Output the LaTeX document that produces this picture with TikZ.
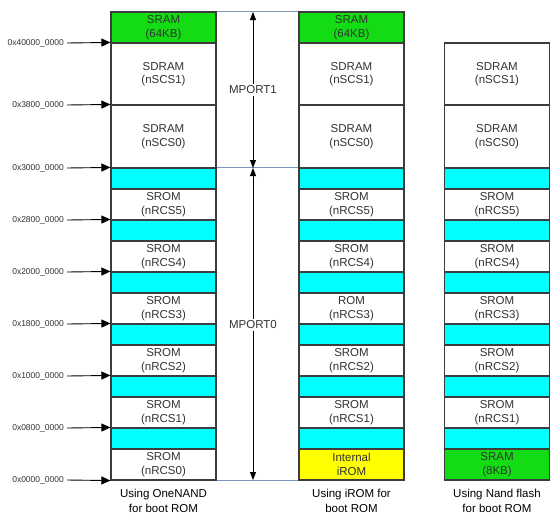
\documentclass[tikz,border=0pt]{standalone}
\usepackage{fontspec}
\setmainfont{Liberation Sans}
\usetikzlibrary{arrows.meta}
\definecolor{cellcyan}{RGB}{0,255,255}
\definecolor{cellgreen}{RGB}{20,220,20}
\definecolor{cellyellow}{RGB}{255,255,0}
\definecolor{guideblue}{RGB}{120,150,190}
\definecolor{bordergray}{RGB}{60,60,60}
\definecolor{txtgray}{RGB}{50,50,50}
\tikzset{
  cell/.style={draw=bordergray, line width=1.1pt, minimum width=105pt, inner sep=0pt,
    align=center, font=\fontsize{11.5}{13.5}\selectfont, text=txtgray},
  addr/.style={anchor=east, inner sep=3pt, font=\fontsize{8.5}{10}\selectfont, text=txtgray},
  addrarrow/.style={-{Triangle[length=9pt,width=8pt]}, line width=0.9pt, black},
  portarrow/.style={{Triangle[length=8pt,width=6pt]}-{Triangle[length=8pt,width=6pt]}, line width=0.8pt, black},
  portlabel/.style={fill=white, inner sep=2pt, font=\fontsize{11.5}{13}\selectfont, text=txtgray},
  guide/.style={draw=guideblue, line width=0.6pt},
  caption/.style={align=center, font=\fontsize{11.5}{15}\selectfont, text=black}
}
\begin{document}
\begin{tikzpicture}[x=1pt,y=-1pt]
\useasboundingbox (0,0) rectangle (558,520);
% ---------- column 1 ----------
\node[cell, fill=cellgreen, minimum height=31pt] (c1sram) at (163.5,27.5) {SRAM\\(64KB)};
\node[cell, minimum height=62pt] (c1scs1) at (163.5,74) {SDRAM\\(nSCS1)};
\node[cell, minimum height=63pt] (c1scs0) at (163.5,136.5) {SDRAM\\(nSCS0)};
\foreach \k/\n/\lab in {0/5/{SROM\\(nRCS5)},1/4/{SROM\\(nRCS4)},2/3/{SROM\\(nRCS3)},3/2/{SROM\\(nRCS2)},4/1/{SROM\\(nRCS1)},5/0/{SROM\\(nRCS0)}}{
  \node[cell, fill=cellcyan, minimum height=21pt] (c1cy\n) at (163.5,178.5+52*\k) {};
  \node[cell, minimum height=31pt] (c1r\n) at (163.5,204.5+52*\k) {\lab};
}
% ---------- column 2 ----------
\node[cell, fill=cellgreen, minimum height=31pt] (c2sram) at (351.5,27.5) {SRAM\\(64KB)};
\node[cell, minimum height=62pt] (c2scs1) at (351.5,74) {SDRAM\\(nSCS1)};
\node[cell, minimum height=63pt] (c2scs0) at (351.5,136.5) {SDRAM\\(nSCS0)};
\foreach \k/\n/\lab/\fc in {0/5/{SROM\\(nRCS5)}/white,1/4/{SROM\\(nRCS4)}/white,2/3/{ROM\\(nRCS3)}/white,3/2/{SROM\\(nRCS2)}/white,4/1/{SROM\\(nRCS1)}/white,5/0/{Internal\\iROM}/cellyellow}{
  \node[cell, fill=cellcyan, minimum height=21pt] (c2cy\n) at (351.5,178.5+52*\k) {};
  \node[cell, fill=\fc, minimum height=31pt] (c2r\n) at (351.5,204.5+52*\k) {\lab};
}
% ---------- column 3 ----------
\node[cell, minimum height=62pt] (c3scs1) at (497,74) {SDRAM\\(nSCS1)};
\node[cell, minimum height=63pt] (c3scs0) at (497,136.5) {SDRAM\\(nSCS0)};
\foreach \k/\n/\lab/\fc in {0/5/{SROM\\(nRCS5)}/white,1/4/{SROM\\(nRCS4)}/white,2/3/{SROM\\(nRCS3)}/white,3/2/{SROM\\(nRCS2)}/white,4/1/{SROM\\(nRCS1)}/white,5/0/{SRAM\\(8KB)}/cellgreen}{
  \node[cell, fill=cellcyan, minimum height=21pt] (c3cy\n) at (497,178.5+52*\k) {};
  \node[cell, fill=\fc, minimum height=31pt] (c3r\n) at (497,204.5+52*\k) {\lab};
}
% ---------- guide lines ----------
\draw[guide] (c1sram.north east) -- (c2sram.north west);
\draw[guide] (c1cy5.north east) -- (c2cy5.north west);
\draw[guide] (c1r0.south east) -- (c2r0.south west);
% ---------- MPORT arrows ----------
\coordinate (mtop) at (253,12);
\coordinate (mmid) at (253,168);
\coordinate (mbot) at (253,480);
\draw[portarrow] (mtop) -- (mmid);
\draw[portarrow] (mmid) -- (mbot);
\node[portlabel] (mp1) at (253,90) {MPORT1};
\node[portlabel] (mp0) at (253,325) {MPORT0};
% ---------- addresses ----------
\node[addr] (a40) at (67,43) {0x40000\_0000};
\node[addr] (a38) at (67,105) {0x3800\_0000};
\node[addr] (a30) at (67,168) {0x3000\_0000};
\node[addr] (a28) at (67,220) {0x2800\_0000};
\node[addr] (a20) at (67,272) {0x2000\_0000};
\node[addr] (a18) at (67,324) {0x1800\_0000};
\node[addr] (a10) at (67,376) {0x1000\_0000};
\node[addr] (a08) at (67,428) {0x0800\_0000};
\node[addr] (a00) at (67,480) {0x0000\_0000};
\draw[addrarrow] (a40.east) -- (c1scs1.north west);
\draw[addrarrow] (a38.east) -- (c1scs0.north west);
\draw[addrarrow] (a30.east) -- (c1cy5.north west);
\draw[addrarrow] (a28.east) -- (c1cy4.north west);
\draw[addrarrow] (a20.east) -- (c1cy3.north west);
\draw[addrarrow] (a18.east) -- (c1cy2.north west);
\draw[addrarrow] (a10.east) -- (c1cy1.north west);
\draw[addrarrow] (a08.east) -- (c1cy0.north west);
\draw[addrarrow] (a00.east) -- (c1r0.south west);
% ---------- captions ----------
\node[caption] (cap1) at (163.5,501) {Using OneNAND\\for boot ROM};
\node[caption] (cap2) at (351.5,501) {Using iROM for\\boot ROM};
\node[caption] (cap3) at (497,501) {Using Nand flash\\for boot ROM};
\end{tikzpicture}
\end{document}
